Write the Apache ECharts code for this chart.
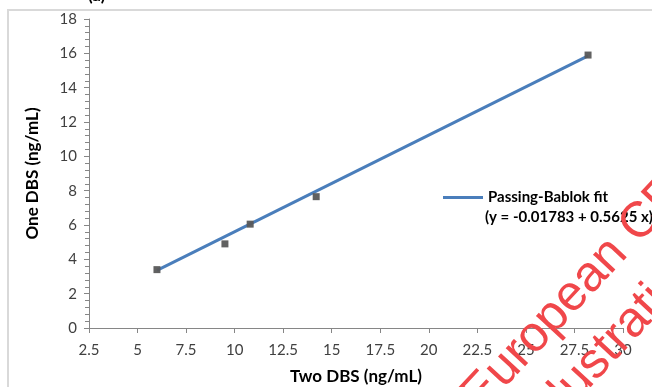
<!DOCTYPE html>
<html>
<head>
<meta charset="utf-8">
<style>
  html, body { margin: 0; padding: 0; background: #fff; }
  #chart { width: 652px; height: 387px; }
</style>
<script src="https://cdn.jsdelivr.net/npm/echarts@6/dist/echarts.min.js"></script>
</head>
<body>
<div id="chart"></div>
<script>
// measured pairs: Two DBS (x) vs One DBS (y)
const twoDbs = [6.0, 9.5, 10.8, 14.2, 28.2];
const oneDbs = [3.4, 4.9, 6.05, 7.65, 15.9];

// Passing-Bablok fit line, ends
const fitX = [6.0, 28.2];
const fitY = [3.36, 15.85];

const fitName = 'Passing-Bablok fit';
const fitEquation = '(y = -0.01783 + 0.5625 x)';

const FONT = 'Lato, "Liberation Sans", sans-serif';
const WM_FONT = '"Liberation Sans", Arial, sans-serif';
const WM_ANGLE = 47 * Math.PI / 180;

const chart = echarts.init(document.getElementById('chart'));

chart.setOption({
  animation: false,
  backgroundColor: '#fff',
  grid: { left: 89, right: 29, top: 19, bottom: 59, outerBoundsMode: 'none' },
  xAxis: {
    type: 'value',
    min: 2.5,
    max: 30,
    interval: 2.5,
    name: 'Two DBS (ng/mL)',
    nameLocation: 'middle',
    nameGap: 40,
    nameTextStyle: { fontFamily: FONT, fontWeight: 'bold', fontSize: 17, color: '#000' },
    axisLine: { lineStyle: { color: '#868686', width: 1 } },
    axisTick: { show: true, inside: false, length: 5, lineStyle: { color: '#868686' } },
    axisLabel: { fontFamily: FONT, fontSize: 15, color: '#404040', margin: 15 },
    splitLine: { show: false },
  },
  yAxis: {
    type: 'value',
    min: 0,
    max: 18,
    interval: 2,
    name: 'One DBS (ng/mL)',
    nameLocation: 'middle',
    nameRotate: 90,
    nameGap: 48,
    nameTextStyle: { fontFamily: FONT, fontWeight: 'bold', fontSize: 17, color: '#000' },
    axisLine: { show: true, lineStyle: { color: '#868686', width: 1 } },
    axisTick: { show: true, inside: false, length: 5, lineStyle: { color: '#868686' } },
    minorTick: { show: true, splitNumber: 5, length: 4, lineStyle: { color: '#868686' } },
    axisLabel: { fontFamily: FONT, fontSize: 15, color: '#404040', margin: 12 },
    splitLine: { show: false },
  },
  legend: {
    left: 443,
    top: 190,
    padding: 0,
    orient: 'vertical',
    itemWidth: 40,
    itemHeight: 3,
    data: [{ name: fitName, icon: 'rect' }],
    textStyle: { fontFamily: FONT, fontWeight: 'bold', fontSize: 15, color: '#000' },
  },
  graphic: [
    {
      type: 'rect',
      shape: { x: 8, y: 10, width: 700, height: 420 },
      style: { fill: 'none', stroke: '#d9d9d9', lineWidth: 2 },
      silent: true,
    },
    {
      type: 'text',
      x: 88,
      y: 4,
      style: { text: '(a)', font: 'bold 17px ' + FONT, fill: '#000', verticalAlign: 'bottom' },
    },
    {
      type: 'text',
      x: 485,
      y: 210,
      style: { text: fitEquation, font: 'bold 15px ' + FONT, fill: '#000' },
    },
    // red publisher watermark across the lower right
    {
      type: 'text',
      x: 471,
      y: 404,
      rotation: WM_ANGLE,
      style: { text: 'European CE', font: '50px ' + WM_FONT, fill: '#f0474a', verticalAlign: 'middle' },
      silent: true,
      z: 100,
    },
    {
      type: 'text',
      x: 542,
      y: 419,
      rotation: WM_ANGLE,
      style: { text: 'Illustration', font: '50px ' + WM_FONT, fill: '#f0474a', verticalAlign: 'middle' },
      silent: true,
      z: 100,
    },
  ],
  series: [
    {
      name: fitName,
      type: 'line',
      data: fitX.map((x, i) => [x, fitY[i]]),
      symbol: 'none',
      lineStyle: { color: '#4a7ebb', width: 3 },
      itemStyle: { color: '#4a7ebb' },
      z: 2,
    },
    {
      name: 'One vs Two DBS',
      type: 'scatter',
      data: twoDbs.map((x, i) => [x, oneDbs[i]]),
      symbol: 'rect',
      symbolSize: 7,
      itemStyle: { color: '#595959', opacity: 0.95 },
      z: 3,
    },
  ],
});
</script>
</body>
</html>
